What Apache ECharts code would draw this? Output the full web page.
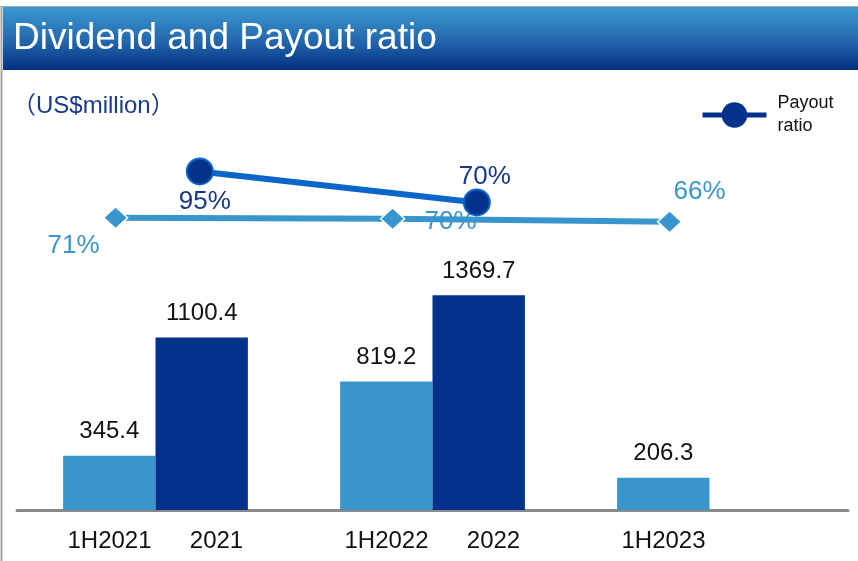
<!DOCTYPE html>
<html>
<head>
<meta charset="utf-8">
<title>Dividend and Payout ratio</title>
<script src="https://cdn.jsdelivr.net/npm/echarts@6/dist/echarts.min.js"></script>
<style>
  html, body { margin: 0; padding: 0; background: #fff; }
  #chart { width: 858px; height: 561px; }
</style>
</head>
<body>
<div id="chart"></div>
<script>
// values
const halfLabels = ['1H2021', '1H2022', '1H2023'];
const fullLabels = ['2021', '2022', ''];
const halfDividend = [345.4, 819.2, 206.3];
const fullDividend = [1100.4, 1369.7, null];
const halfPayout = [71, 70, 66];
const fullPayout = [95, 70, null];

const FONT = '"Liberation Sans", Arial, Helvetica, sans-serif';
const LIGHT = '#3996cc';
const DARK = '#02328a';
const LINE_BLUE = '#0a66c8';

// where each marker sits inside its category band (0..1)
const halfPos = 0.356;
const fullPos = 0.66;
// label offsets from marker centre
const halfLabelOffsets = [[-42, 28], [58, 3], [30, -30]];
const fullLabelOffsets = [[5, 30], [8, -26]];

const chart = echarts.init(document.getElementById('chart'));

const halfLineData = halfPayout.map((v, i) => ({
  value: [i + halfPos, v],
  label: { offset: halfLabelOffsets[i] }
}));
const fullLineData = fullPayout
  .map((v, i) => (v == null ? null : {
    value: [i + fullPos, v],
    label: { offset: fullLabelOffsets[i] }
  }))
  .filter(d => d);

const option = {
  animation: false,
  backgroundColor: '#fff',
  textStyle: { fontFamily: FONT },
  graphic: [
    {
      type: 'rect',
      shape: { x: 3, y: 7, width: 855, height: 63 },
      style: {
        fill: new echarts.graphic.LinearGradient(0, 0, 0, 1, [
          { offset: 0, color: '#3a99d0' },
          { offset: 0.55, color: '#2466ad' },
          { offset: 1, color: '#00307f' }
        ])
      },
      z: 0
    },
    {
      type: 'line',
      shape: { x1: 0, y1: 6.5, x2: 858, y2: 6.5 },
      style: { stroke: '#a6a6a6', lineWidth: 1 }
    },
    {
      type: 'line',
      shape: { x1: 1.5, y1: 6, x2: 1.5, y2: 561 },
      style: { stroke: '#a6a6a6', lineWidth: 2 }
    }
  ],
  title: [
    {
      text: 'Dividend and Payout ratio',
      left: 13,
      top: 20,
      padding: 0,
      textStyle: { color: '#fff', fontSize: 37, fontWeight: 'normal', fontFamily: FONT }
    },
    {
      text: '（US$million）',
      left: 12,
      top: 94,
      padding: 0,
      textStyle: {
        color: '#1a3a8a', fontSize: 24, fontWeight: 'normal',
        fontFamily: FONT + ', "Noto Sans CJK SC"'
      }
    }
  ],
  legend: {
    data: ['Payout ratio'],
    left: 700,
    top: 84,
    padding: 0,
    itemWidth: 64,
    itemHeight: 32,
    formatter: () => 'Payout\nratio',
    textStyle: { fontSize: 18, lineHeight: 23, color: '#111', padding: [16, 0, 0, 6], fontFamily: FONT },
    lineStyle: { color: DARK, width: 5 },
    itemStyle: { color: DARK, borderWidth: 0 }
  },
  grid: { left: 17, right: 10, top: 71, bottom: 51, containLabel: false },
  xAxis: [
    {
      type: 'category',
      data: halfLabels,
      axisLine: { lineStyle: { color: '#8a8a8a', width: 3 } },
      axisTick: { show: false },
      axisLabel: {
        interval: 0,
        margin: 19,
        formatter: (val, idx) => `{s| }{h|${halfLabels[idx]}}{f|${fullLabels[idx] || ' '}}`,
        rich: {
          s: { width: 30, align: 'center' },
          h: { width: 92, align: 'center', fontSize: 24, color: '#111', fontFamily: FONT },
          f: { width: 122, align: 'center', fontSize: 24, color: '#111', fontFamily: FONT }
        }
      }
    },
    { type: 'value', min: 0, max: 3, show: false }
  ],
  yAxis: [
    { type: 'value', min: 0, max: 2800, show: false },
    { type: 'value', min: -295, max: 255, show: false },
    { type: 'value', min: -178, max: 176, show: false }
  ],
  series: [
    {
      name: 'Dividend 1H',
      type: 'bar',
      data: halfDividend,
      barGap: '0%',
      barCategoryGap: '33.3%',
      itemStyle: { color: LIGHT },
      label: {
        show: true, position: 'top', distance: 12,
        fontSize: 24, color: '#111', fontFamily: FONT
      }
    },
    {
      name: 'Dividend FY',
      type: 'bar',
      data: fullDividend,
      barGap: '0%',
      barCategoryGap: '33.3%',
      itemStyle: { color: DARK },
      label: {
        show: true, position: 'top', distance: 12,
        fontSize: 24, color: '#111', fontFamily: FONT
      }
    },
    {
      name: 'Interim payout ratio',
      type: 'line',
      xAxisIndex: 1,
      yAxisIndex: 1,
      data: halfLineData,
      symbol: 'diamond',
      symbolSize: [24, 22],
      lineStyle: { color: LIGHT, width: 6 },
      itemStyle: { color: LIGHT, borderColor: '#fff', borderWidth: 1.5 },
      label: {
        show: true, position: 'inside',
        formatter: p => p.value[1] + '%',
        fontSize: 26, color: LIGHT, fontFamily: FONT
      },
      z: 3
    },
    {
      name: 'Payout ratio',
      type: 'line',
      xAxisIndex: 1,
      yAxisIndex: 2,
      data: fullLineData,
      symbol: 'circle',
      symbolSize: 26,
      lineStyle: { color: LINE_BLUE, width: 6 },
      itemStyle: { color: DARK, borderColor: LINE_BLUE, borderWidth: 2 },
      label: {
        show: true, position: 'inside',
        formatter: p => p.value[1] + '%',
        fontSize: 26, color: '#17378a', fontFamily: FONT
      },
      z: 4
    }
  ]
};

chart.setOption(option);
</script>
</body>
</html>
